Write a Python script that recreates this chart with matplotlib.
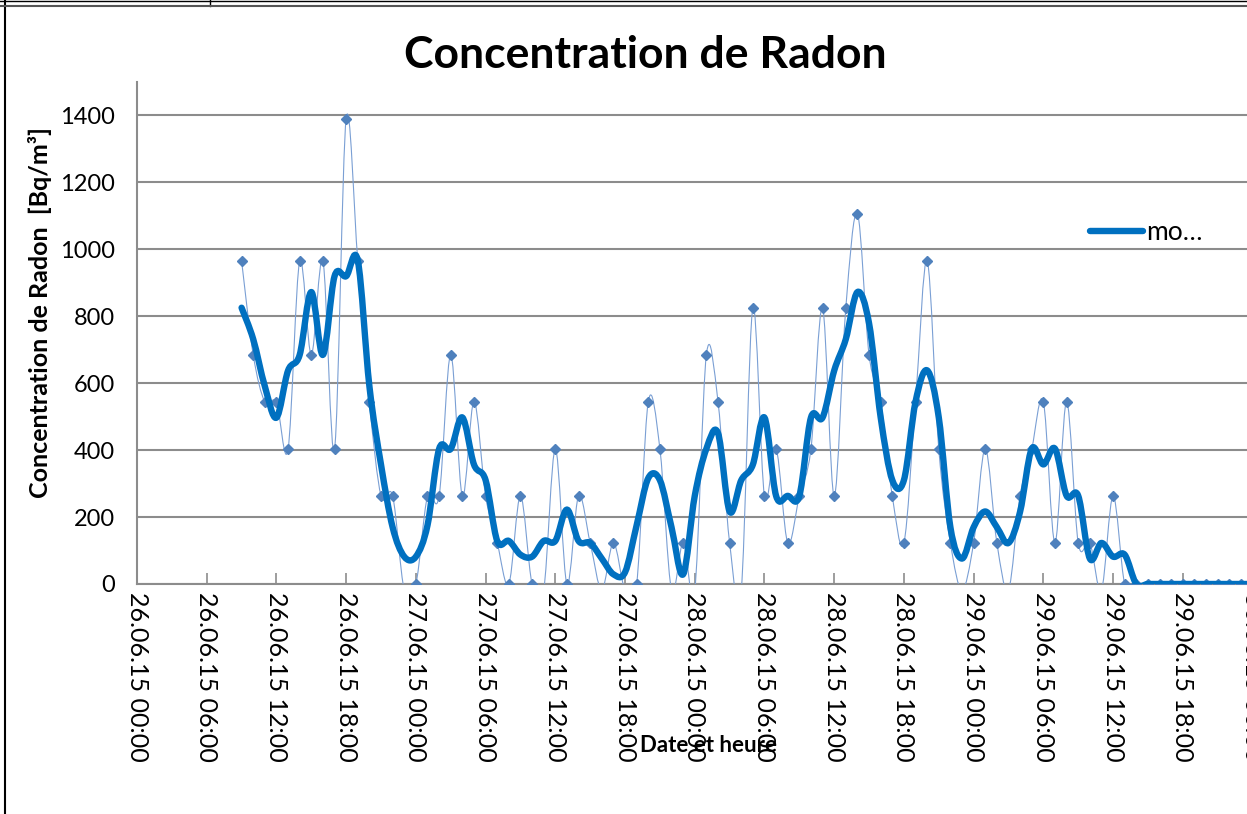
import numpy as np
import pandas as pd
import matplotlib.pyplot as plt
import matplotlib.dates as mdates
from matplotlib.path import Path
from matplotlib.patches import PathPatch
from matplotlib.lines import Line2D

plt.rcParams['font.family'] = ['Lato', 'DejaVu Sans']

# hourly readings from 26.06.15 09:00 (Bq/m3), values below 0 fall under the axis
radon = [966, 685, 544, 544, 403, 966, 685, 966, 403, 1390, 966, 544, 263, 263, -18, 0,
         263, 263, 685, 263, 545, 263, 123, 0, 263, 0, -18, 404, 0, 263, 123, -18, 123, -18, 0,
         545, 404, -18, 123, -18, 685, 545, 123, -18, 825, 263, 404, 123, 263, 404, 825, 263, 825,
         1107, 685, 545, 263, 123, 545, 966, 404, 123, -18, 123, 404, 123,
         -18, 263, 404, 545, 123, 545, 123, 123, -18, 263, 0,
         0, 0, 0, 0, 0, 0, 0, 0, 0, 0, 0]
times = pd.date_range('2015-06-26 09:00', periods=len(radon), freq='h')
legend_label = 'mo…'

# moving average (3 points, centred)
moyenne = pd.Series(radon).rolling(3, center=True, min_periods=1).mean().values


def smooth_path(x, y):
    # excel-like smoothed line : bezier through every point
    n = len(x)
    verts = [(x[0], y[0])]
    codes = [Path.MOVETO]
    for i in range(n - 1):
        a = max(i - 1, 0)
        b = min(i + 2, n - 1)
        c1 = (x[i] + (x[i + 1] - x[a]) / 6, y[i] + (y[i + 1] - y[a]) / 6)
        c2 = (x[i + 1] - (x[b] - x[i]) / 6, y[i + 1] - (y[b] - y[i]) / 6)
        verts += [c1, c2, (x[i + 1], y[i + 1])]
        codes += [Path.CURVE4] * 3
    return Path(verts, codes)


W, H = 1247, 814
fig = plt.figure(figsize=(W / 100, H / 100), dpi=100)
# plot area runs past the right edge of the picture (cropped like the original)
ax = fig.add_axes([137 / W, (H - 584) / H, (1268 - 137) / W, (584 - 82) / H])

xnum = mdates.date2num(times)
thin = PathPatch(smooth_path(xnum, radon), facecolor='none', edgecolor='#7a9fd4', lw=0.8, zorder=3)
ax.add_patch(thin)
ax.plot(times, radon, ls='none', marker='D', ms=5.5, color='#4f81bd', zorder=4)
thick = PathPatch(smooth_path(xnum, moyenne), facecolor='none', edgecolor='#0070c0', lw=4.6,
                  capstyle='round', joinstyle='round', zorder=5)
ax.add_patch(thick)

ax.set_xlim(pd.Timestamp('2015-06-26 00:00'), pd.Timestamp('2015-06-30 01:20'))
ax.set_ylim(0, 1500)
ax.set_yticks(np.arange(0, 1401, 200))
ax.xaxis.set_major_locator(mdates.HourLocator(byhour=[0, 6, 12, 18]))
ax.xaxis.set_major_formatter(mdates.DateFormatter('%d.%m.%y %H:%M'))
ax.grid(axis='y', color='#8c8c8c', lw=1.5)
ax.set_axisbelow(True)
for s in ['top', 'right']:
    ax.spines[s].set_visible(False)
for s in ['left', 'bottom']:
    ax.spines[s].set_color('#8c8c8c')
    ax.spines[s].set_linewidth(1.5)
ax.tick_params(axis='x', direction='in', length=8, width=1.2, color='#8c8c8c', labelsize=18,
               labelrotation=-90, pad=6)
ax.tick_params(axis='y', length=0, labelsize=17, pad=16)
for lab in ax.get_xticklabels():
    lab.set_va('top')
    lab.set_ha('center')

fig.text(645 / W, 1 - 55 / H, 'Concentration de Radon', ha='center', va='center',
         fontsize=32, fontweight='bold')
fig.text(40 / W, 1 - 312 / H, 'Concentration de Radon  [Bq/m³]', rotation=90, ha='center',
         va='center', fontsize=18, fontweight='bold')
fig.text(708 / W, 1 - 745 / H, 'Date et heure', ha='center', va='center', fontsize=16,
         fontweight='bold')

handle = Line2D([], [], color='#0070c0', lw=4.6, solid_capstyle='round')
fig.legend([handle], [legend_label], loc='center left', bbox_to_anchor=(1066 / W, 1 - 233 / H),
           frameon=False, fontsize=19, handlelength=2.0, handletextpad=0.15)

# document frame around the chart
fig.add_artist(Line2D([5 / W, 5 / W], [0, 1], color='black', lw=1.5))
fig.add_artist(Line2D([0, 1], [1 - 1 / H, 1 - 1 / H], color='black', lw=1))
fig.add_artist(Line2D([210 / W, 210 / W], [1 - 6 / H, 1], color='black', lw=1))
fig.add_artist(Line2D([0, 1], [1 - 6 / H, 1 - 6 / H], color='#555555', lw=1.5))

fig.savefig('out.png', dpi=100)
